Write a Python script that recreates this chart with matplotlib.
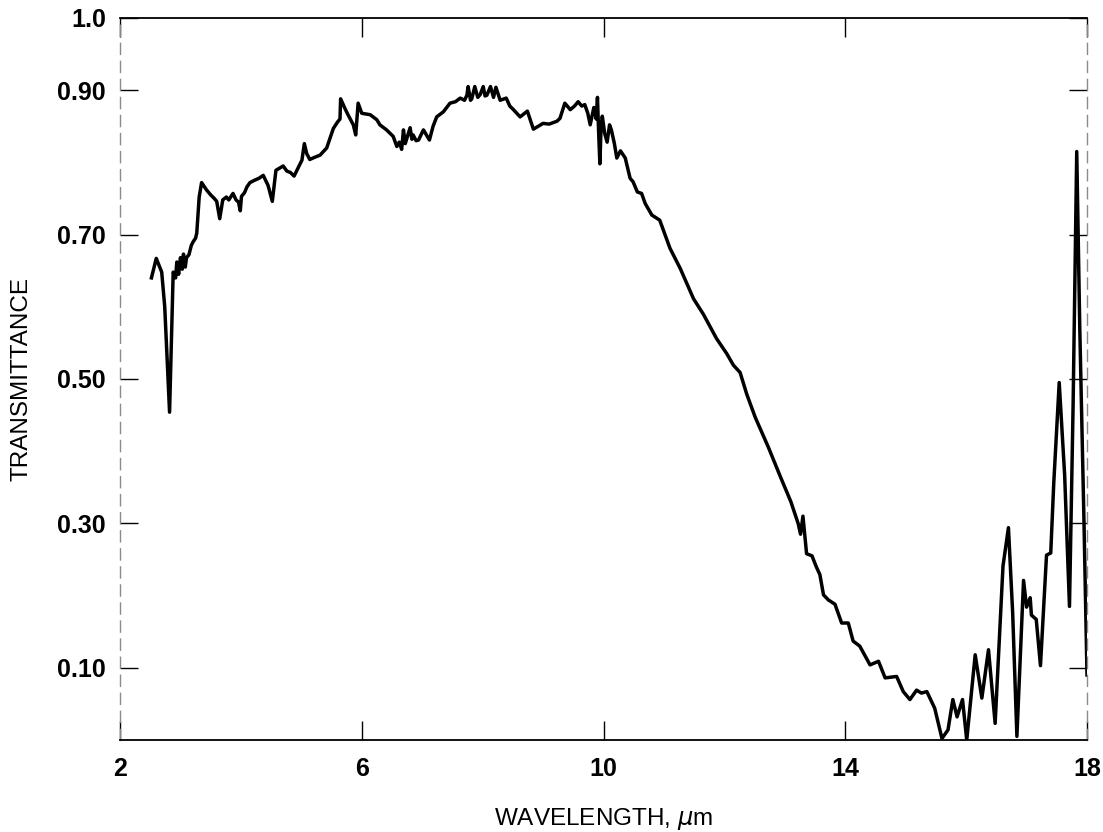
import numpy as np
import matplotlib
matplotlib.use("Agg")
import matplotlib.pyplot as plt

# Transmittance spectrum
wavelength = [
    2.52, 2.60, 2.69, 2.74, 2.82, 2.86, 2.88, 2.92, 2.94, 2.97, 3.00, 3.03, 3.05, 3.08,
    3.10, 3.14, 3.18, 3.21, 3.25, 3.27, 3.30, 3.31, 3.35, 3.43, 3.50, 3.56, 3.60, 3.65,
    3.70, 3.76, 3.80, 3.87, 3.92, 3.96, 3.99, 4.01, 4.06, 4.10, 4.15, 4.22, 4.30, 4.37,
    4.45, 4.52, 4.58, 4.64, 4.70, 4.76, 4.82, 4.88, 4.95, 5.01, 5.05, 5.09, 5.14, 5.22,
    5.31, 5.42, 5.53, 5.60, 5.64, 5.65, 5.72, 5.76, 5.81, 5.86, 5.90, 5.94, 6.00, 6.14,
    6.25, 6.30, 6.41, 6.52, 6.58, 6.62, 6.66, 6.69, 6.72, 6.77, 6.80, 6.83, 6.85, 6.90,
    6.94, 7.02, 7.07, 7.12, 7.18, 7.24, 7.35, 7.46, 7.55, 7.63, 7.70, 7.74, 7.76, 7.80,
    7.82, 7.87, 7.92, 7.96, 8.01, 8.04, 8.07, 8.13, 8.18, 8.22, 8.29, 8.39, 8.45, 8.51,
    8.62, 8.74, 8.84, 9.00, 9.10, 9.23, 9.28, 9.36, 9.45, 9.52, 9.58, 9.64, 9.69, 9.74,
    9.78, 9.84, 9.88, 9.90, 9.92, 9.94, 9.96, 9.98, 10.02, 10.06, 10.10, 10.13, 10.18,
    10.22, 10.28, 10.36, 10.44, 10.49, 10.56, 10.63, 10.69, 10.80, 10.93, 11.10, 11.27,
    11.49, 11.65, 11.87, 12.04, 12.15, 12.26, 12.37, 12.51, 12.73, 12.92, 13.10, 13.22,
    13.26, 13.30, 13.36, 13.45, 13.52, 13.58, 13.64, 13.72, 13.83, 13.94, 14.05, 14.13,
    14.24, 14.41, 14.55, 14.66, 14.85, 14.96, 15.07, 15.18, 15.26, 15.35, 15.48, 15.60,
    15.70, 15.78, 15.85, 15.94, 16.01, 16.15, 16.26, 16.37, 16.48, 16.61, 16.70, 16.77,
    16.84, 16.95, 17.00, 17.06, 17.08, 17.16, 17.23, 17.33, 17.40, 17.45, 17.54, 17.63,
    17.71, 17.77, 17.83, 17.88, 17.95, 18.00,
]
transmittance = [
    0.640, 0.667, 0.648, 0.600, 0.454, 0.580, 0.648, 0.640, 0.662, 0.645, 0.668, 0.652, 0.673, 0.655,
    0.668, 0.672, 0.685, 0.690, 0.695, 0.702, 0.740, 0.752, 0.772, 0.762, 0.755, 0.750, 0.746, 0.722,
    0.748, 0.752, 0.748, 0.757, 0.748, 0.745, 0.733, 0.753, 0.758, 0.766, 0.772, 0.775, 0.778, 0.782,
    0.768, 0.746, 0.789, 0.792, 0.795, 0.788, 0.786, 0.781, 0.793, 0.803, 0.826, 0.812, 0.804, 0.807,
    0.810, 0.820, 0.847, 0.856, 0.860, 0.888, 0.875, 0.868, 0.860, 0.852, 0.838, 0.882, 0.868, 0.866,
    0.859, 0.852, 0.845, 0.836, 0.822, 0.828, 0.818, 0.845, 0.826, 0.840, 0.848, 0.832, 0.838, 0.830,
    0.831, 0.845, 0.838, 0.831, 0.850, 0.863, 0.870, 0.882, 0.884, 0.889, 0.886, 0.893, 0.905, 0.886,
    0.888, 0.905, 0.890, 0.894, 0.905, 0.892, 0.893, 0.905, 0.890, 0.904, 0.886, 0.889, 0.878, 0.873,
    0.863, 0.871, 0.846, 0.854, 0.853, 0.857, 0.861, 0.882, 0.873, 0.878, 0.884, 0.878, 0.880, 0.868,
    0.852, 0.876, 0.860, 0.890, 0.840, 0.798, 0.850, 0.864, 0.840, 0.828, 0.852, 0.845, 0.826,
    0.806, 0.816, 0.806, 0.778, 0.773, 0.759, 0.757, 0.743, 0.727, 0.720, 0.681, 0.653,
    0.611, 0.590, 0.556, 0.535, 0.519, 0.509, 0.479, 0.447, 0.405, 0.366, 0.330, 0.300,
    0.285, 0.310, 0.258, 0.255, 0.240, 0.229, 0.201, 0.194, 0.188, 0.162, 0.162, 0.137,
    0.130, 0.104, 0.109, 0.086, 0.088, 0.067, 0.056, 0.069, 0.065, 0.067, 0.044, 0.002,
    0.014, 0.056, 0.032, 0.056, 0.000, 0.118, 0.058, 0.125, 0.023, 0.241, 0.294, 0.176,
    0.005, 0.221, 0.184, 0.197, 0.173, 0.167, 0.103, 0.256, 0.259, 0.356, 0.495, 0.367,
    0.185, 0.464, 0.815, 0.572, 0.302, 0.090,
]

x_ticks = [2, 6, 10, 14, 18]
y_ticks = [0.10, 0.30, 0.50, 0.70, 0.90, 1.0]
y_tick_labels = ['0.10', '0.30', '0.50', '0.70', '0.90', '1.0']

plt.rcParams['font.family'] = ['Liberation Sans', 'DejaVu Sans']

fig = plt.figure(figsize=(11.03, 8.32), dpi=100)
ax = fig.add_axes([0.1088, 0.1106, 0.8767, 0.8678])

ax.plot(wavelength, transmittance, color='black', linewidth=2.5, solid_joinstyle='round')

ax.set_xlim(2, 18)
ax.set_ylim(0, 1.0)

ax.set_xticks(x_ticks)
ax.set_xticklabels([str(t) for t in x_ticks], fontsize=18, fontweight='bold')
ax.set_yticks(y_ticks)
ax.set_yticklabels(y_tick_labels, fontsize=18, fontweight='bold')

ax.tick_params(axis='x', direction='in', length=14, width=1, top=True, pad=12)
ax.tick_params(axis='y', direction='in', length=13, width=1, right=True, pad=10)

# frame: solid top/bottom, faint broken sides
for side in ['top', 'bottom']:
    ax.spines[side].set_linewidth(1.3)
    ax.spines[side].set_color('black')
for side in ['left', 'right']:
    ax.spines[side].set_linewidth(1.0)
    ax.spines[side].set_color('#8a8a8a')
    ax.spines[side].set_linestyle((0, (8, 5)))

ax.set_xlabel('WAVELENGTH, $\\mu$m', fontsize=17.5, labelpad=18)
ax.set_ylabel('TRANSMITTANCE', fontsize=17.5, labelpad=18)

fig.savefig('out.png', dpi=100)
